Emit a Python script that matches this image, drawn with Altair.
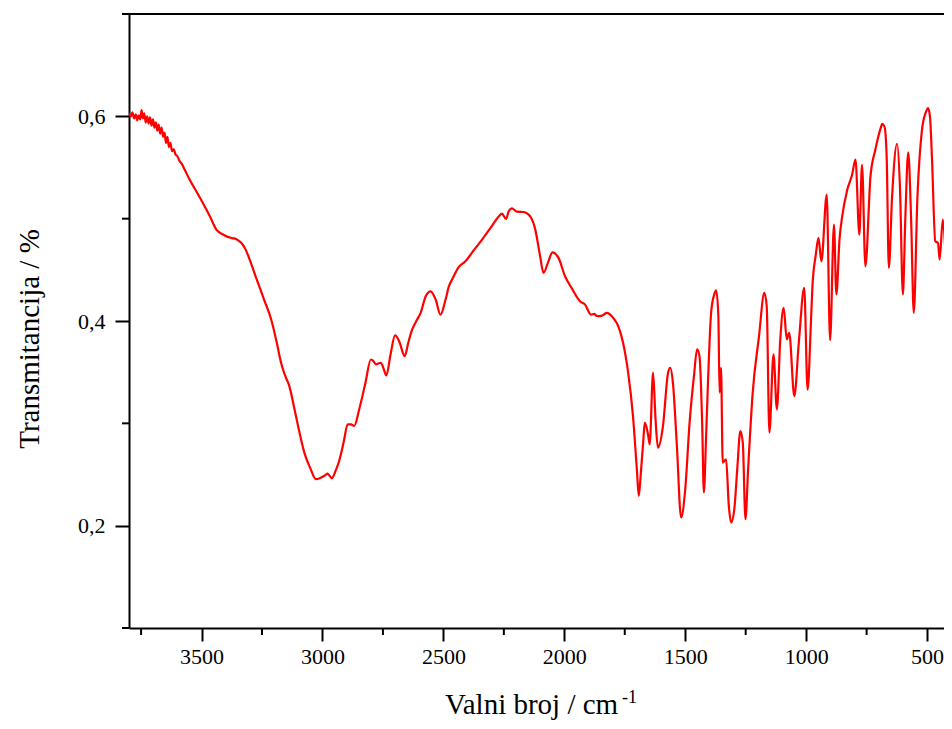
import altair as alt
import pandas as pd

# Spectrum (wavenumber / cm^-1, transmittance)
wavenumber = [
    3800, 3792, 3786, 3779, 3772, 3766, 3760, 3754, 3748, 3743, 3737, 3731, 3725, 3719, 3713,
    3707, 3701, 3695, 3689, 3683, 3677, 3671, 3665, 3659, 3653, 3647, 3641, 3635, 3629, 3622,
    3615, 3608, 3600, 3590, 3583, 3570, 3549, 3520, 3494, 3465, 3438, 3415, 3397, 3375, 3356,
    3336, 3318, 3301, 3274, 3240, 3212, 3190, 3171, 3155, 3137, 3115, 3095, 3075, 3050, 3027,
    3006, 2990, 2979, 2970, 2961, 2945, 2931, 2912, 2896, 2882, 2869, 2848, 2822, 2800, 2790,
    2779, 2759, 2748, 2736, 2718, 2700, 2683, 2660, 2645, 2629, 2612, 2594, 2573, 2553, 2532,
    2512, 2491, 2477, 2464, 2436, 2409, 2375, 2340, 2305, 2271, 2258, 2241, 2230, 2217, 2196,
    2168, 2141, 2120, 2100, 2086, 2068, 2049, 2024, 1997, 1970, 1935, 1914, 1890, 1875, 1867,
    1853, 1838, 1825, 1798, 1777, 1757, 1736, 1716, 1700, 1692, 1684, 1674, 1667, 1654, 1647,
    1633, 1623, 1613, 1592, 1571, 1562, 1551, 1535, 1517, 1500, 1482, 1464, 1451, 1441, 1430,
    1423, 1414, 1406, 1393, 1380, 1372, 1363, 1358, 1352, 1345, 1331, 1320, 1310, 1297, 1285,
    1272, 1262, 1251, 1240, 1221, 1195, 1173, 1163, 1152, 1135, 1121, 1107, 1093, 1080, 1070,
    1049, 1030, 1008, 994, 980, 974, 960, 949, 937, 915, 901, 885, 875, 862, 851,
    830, 810, 796, 780, 769, 755, 734, 714, 690, 686, 676, 667, 658, 645, 624,
    612, 600, 590, 578, 566, 555, 540, 521, 505, 496, 488, 480, 466, 455, 448,
    435, 425, 418, 409,
]
transmittance = [
    0.603, 0.600, 0.604, 0.598, 0.602, 0.596, 0.601, 0.597, 0.606, 0.598, 0.603, 0.594, 0.600, 0.593, 0.599,
    0.591, 0.597, 0.589, 0.594, 0.586, 0.592, 0.583, 0.589, 0.580, 0.584, 0.574, 0.580, 0.570, 0.574, 0.566,
    0.568, 0.563, 0.561, 0.556, 0.554, 0.548, 0.538, 0.526, 0.515, 0.502, 0.489, 0.485, 0.4827, 0.481, 0.480,
    0.4765, 0.470, 0.460, 0.442, 0.420, 0.4015, 0.380, 0.359, 0.347, 0.3364, 0.313, 0.291, 0.2714, 0.256, 0.2454,
    0.247, 0.249, 0.2509, 0.2485, 0.2463, 0.254, 0.2632, 0.282, 0.299, 0.299, 0.2974, 0.3137, 0.340, 0.3624, 0.361,
    0.3576, 0.3592, 0.354, 0.3468, 0.368, 0.3859, 0.3803, 0.3657, 0.379, 0.3917, 0.400, 0.408, 0.4242, 0.429, 0.421,
    0.4063, 0.421, 0.434, 0.4405, 0.4529, 0.4583, 0.469, 0.4795, 0.491, 0.5022, 0.5049, 0.4997, 0.507, 0.510, 0.5068,
    0.5065, 0.5022, 0.4893, 0.4632, 0.447, 0.4568, 0.4671, 0.4617, 0.4437, 0.4324, 0.4193, 0.416, 0.4063, 0.407, 0.405,
    0.4047, 0.406, 0.408, 0.4031, 0.3949, 0.3787, 0.3495, 0.3071, 0.255, 0.2291, 0.250, 0.2812, 0.3007, 0.2893, 0.2795,
    0.3495, 0.305, 0.2763, 0.2974, 0.3495, 0.3543, 0.3397, 0.280, 0.208, 0.2356, 0.3007, 0.3461, 0.3722, 0.3657, 0.300,
    0.2324, 0.285, 0.3397, 0.408, 0.426, 0.430, 0.4047, 0.330, 0.3543, 0.2617, 0.2649, 0.220, 0.2031, 0.2161, 0.255,
    0.2925, 0.2812, 0.2063, 0.255, 0.330, 0.385, 0.4275, 0.4144, 0.2909, 0.3673, 0.3137, 0.382, 0.4129, 0.382, 0.3885,
    0.3266, 0.380, 0.4324, 0.333, 0.400, 0.434, 0.465, 0.4812, 0.4583, 0.5234, 0.3813, 0.4941, 0.4259, 0.480, 0.5022,
    0.5283, 0.5429, 0.5576, 0.4844, 0.5527, 0.4535, 0.5413, 0.5673, 0.5900, 0.5927, 0.590, 0.560, 0.4519, 0.520, 0.5732,
    0.530, 0.4259, 0.500, 0.5647, 0.500, 0.408, 0.520, 0.5868, 0.604, 0.608, 0.600, 0.5608, 0.4779, 0.4763, 0.460,
    0.499, 0.470, 0.4242, 0.390,
]

x_major = [3500, 3000, 2500, 2000, 1500, 1000, 500]
x_minor = [3750, 3250, 2750, 2250, 1750, 1250, 750]
y_major = [0.2, 0.4, 0.6]
y_minor = [0.1, 0.3, 0.5, 0.7]

x_title = "Valni broj / cm"
x_title_sup = "-1"
y_title = "Transmitancija / %"

X_DOMAIN = [3800, 430]
Y_DOMAIN = [0.1, 0.7]
W, H = 815, 614
FONT = "Liberation Serif"

spec = pd.DataFrame({"wn": wavenumber, "T": transmittance})
xminor_df = pd.DataFrame({"wn": x_minor})
yminor_df = pd.DataFrame({"T": y_minor})

xscale = alt.Scale(domain=X_DOMAIN, nice=False, zero=False)
yscale = alt.Scale(domain=Y_DOMAIN, nice=False, zero=False)

xaxis = alt.Axis(
    values=x_major, tickSize=13, tickWidth=2, tickColor="black",
    domainColor="black", domainWidth=2, grid=False, title=None,
    labelFont=FONT, labelFontSize=22, labelColor="black", labelPadding=5,
    labelExpr="format(datum.value, 'd')",
)
yaxis = alt.Axis(
    values=y_major, tickSize=14, tickWidth=2, tickColor="black",
    domainColor="black", domainWidth=2, grid=False, title=None,
    labelFont=FONT, labelFontSize=22, labelColor="black", labelPadding=10,
    labelExpr="replace(format(datum.value, '.1f'), '.', ',')",
)

line = alt.Chart(spec).mark_line(color="#ff0000", strokeWidth=2.2, clip=True, interpolate="monotone").encode(
    x=alt.X("wn:Q", scale=xscale, axis=xaxis),
    y=alt.Y("T:Q", scale=yscale, axis=yaxis),
    order=alt.Order("wn:Q", sort="descending"),
)

xminor = alt.Chart(xminor_df).mark_rule(color="black", strokeWidth=2).encode(
    x=alt.X("wn:Q", scale=xscale, axis=xaxis),
    y=alt.value(H), y2=alt.value(H + 7),
)
yminor = alt.Chart(yminor_df).mark_rule(color="black", strokeWidth=2).encode(
    y=alt.Y("T:Q", scale=yscale, axis=yaxis),
    x=alt.value(0), x2=alt.value(-7),
)
top_frame = alt.Chart(xminor_df).mark_rule(color="black", strokeWidth=2).encode(
    x=alt.value(0), x2=alt.value(W), y=alt.value(0),
)

xt = alt.Chart(pd.DataFrame({"t": [x_title]})).mark_text(
    font=FONT, fontSize=29, align="left", baseline="alphabetic", color="black"
).encode(x=alt.value(316), y=alt.value(700), text="t:N")
xt_sup = alt.Chart(pd.DataFrame({"t": [x_title_sup]})).mark_text(
    font=FONT, fontSize=18, align="left", baseline="alphabetic", color="black"
).encode(x=alt.value(493), y=alt.value(689), text="t:N")
yt = alt.Chart(pd.DataFrame({"t": [y_title]})).mark_text(
    font=FONT, fontSize=29, align="center", baseline="middle", angle=270, color="black"
).encode(x=alt.value(-99), y=alt.value(325), text="t:N")

chart = alt.layer(line, xminor, yminor, top_frame, xt, xt_sup, yt).properties(
    width=W, height=H,
    autosize=alt.AutoSizeParams(type="none"),
    padding={"left": 121, "top": 6, "right": 0, "bottom": 92},
    background="white",
).configure_view(strokeWidth=0)

chart.save("out.html", embed_options={"renderer": "svg", "actions": False})
